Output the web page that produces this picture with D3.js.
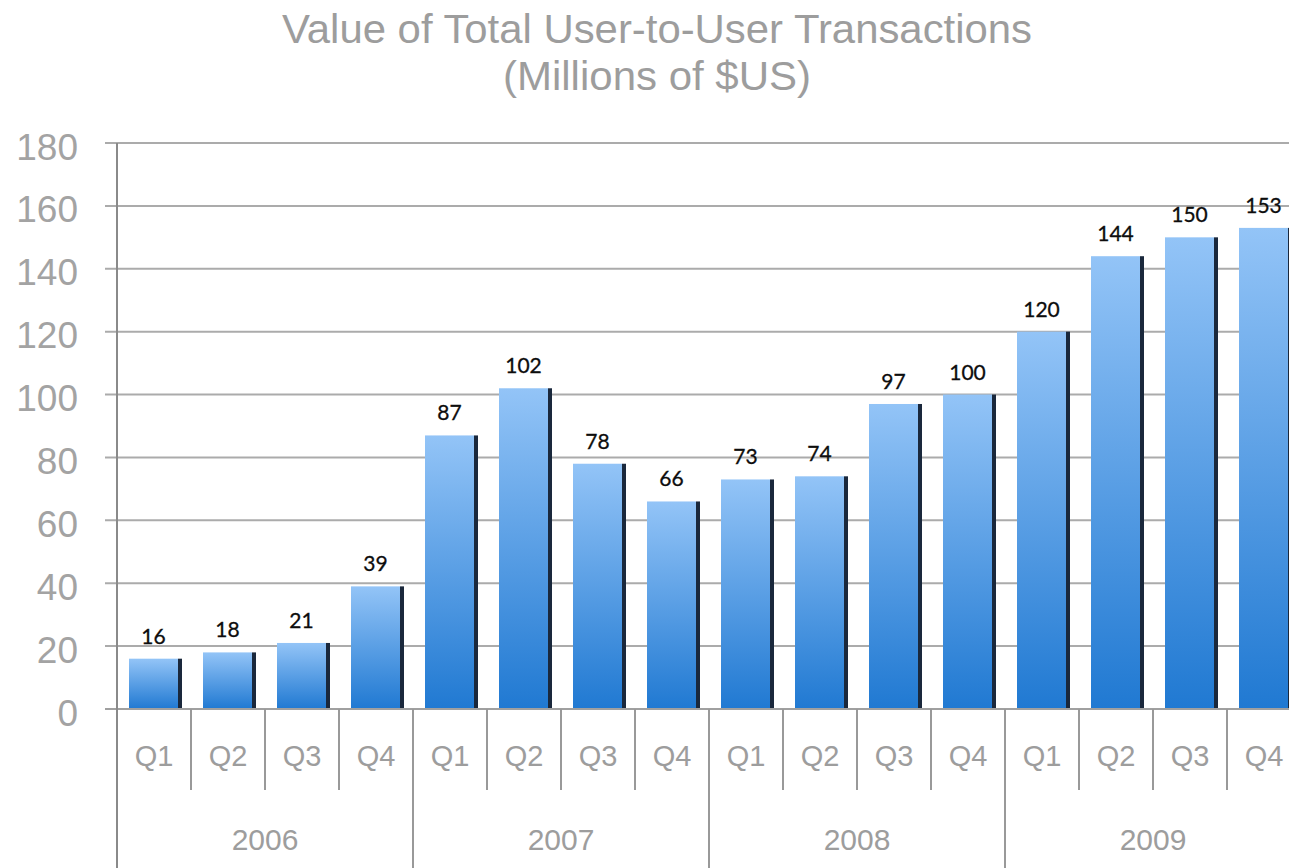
<!DOCTYPE html>
<html>
<head>
<meta charset="utf-8">
<script src="https://cdn.jsdelivr.net/npm/d3@7"></script>
<style>
  html, body { margin: 0; padding: 0; background: #fff; }
  svg { display: block; }
</style>
</head>
<body>
<svg id="chart" width="1289" height="868"></svg>
<script>
// ---- data ----
const years = ["2006", "2007", "2008", "2009"];
const quarters = ["Q1", "Q2", "Q3", "Q4"];
const values = [16, 18, 21, 39, 87, 102, 78, 66, 73, 74, 97, 100, 120, 144, 150, 153];
const yTicks = [0, 20, 40, 60, 80, 100, 120, 140, 160, 180];
const titleLines = ["Value of Total User-to-User Transactions", "(Millions of $US)"];

// ---- build rows ----
const rows = [];
years.forEach((yr, yi) => quarters.forEach((q, qi) => {
  rows.push({ key: yr + "-" + q, year: yr, quarter: q, value: values[yi * quarters.length + qi] });
}));

const W = 1289, H = 868;
const left = 117, bandW = 74;
const svg = d3.select("#chart");

const x = d3.scaleBand().domain(rows.map(d => d.key)).range([left, left + bandW * rows.length]).padding(0);
const y = d3.scaleLinear().domain([0, 180]).range([709, 143]);

const gray = "#9d9d9d";

// gradient
const defs = svg.append("defs");
const grad = defs.append("linearGradient").attr("id", "barGrad").attr("x1", 0).attr("y1", 0).attr("x2", 0).attr("y2", 1);
grad.append("stop").attr("offset", "0%").attr("stop-color", "#93c4f7");
grad.append("stop").attr("offset", "100%").attr("stop-color", "#2079d2");

// title
svg.append("g").selectAll("text").data(titleLines).join("text")
  .attr("x", 657).attr("y", (d, i) => i === 0 ? 43 : 90)
  .attr("text-anchor", "middle")
  .attr("font-family", "'Liberation Sans', Arial, sans-serif")
  .attr("font-size", 41)
  .attr("fill", gray)
  .attr("textLength", (d, i) => i === 0 ? 750 : 308)
  .attr("lengthAdjust", "spacingAndGlyphs")
  .text(d => d);

// gridlines
svg.append("g").selectAll("line").data(yTicks).join("line")
  .attr("x1", 105).attr("x2", W)
  .attr("y1", d => y(d)).attr("y2", d => y(d))
  .attr("stroke", "#ababab").attr("stroke-width", 2);

// y labels
svg.append("g").selectAll("text").data(yTicks).join("text")
  .attr("x", 78).attr("y", d => y(d) + 16.5)
  .attr("text-anchor", "end")
  .attr("font-family", "'Liberation Sans', Arial, sans-serif")
  .attr("font-size", 37)
  .attr("fill", "#a3a3a3")
  .text(d => d);

// bars
const bw = x.bandwidth();
const barOff = 12, barW = 49, shadowW = 4;
const bars = svg.append("g").selectAll("g").data(rows).join("g");
bars.append("rect")
  .attr("x", d => x(d.key) + barOff)
  .attr("y", d => y(d.value))
  .attr("width", barW)
  .attr("height", d => y(0) - y(d.value))
  .attr("fill", "url(#barGrad)");
bars.append("rect")
  .attr("x", d => x(d.key) + barOff + barW)
  .attr("y", d => y(d.value))
  .attr("width", shadowW)
  .attr("height", d => y(0) - y(d.value))
  .attr("fill", "#1a283c");

// value labels
svg.append("g").selectAll("text").data(rows).join("text")
  .attr("x", d => x(d.key) + barOff + barW / 2)
  .attr("y", d => y(d.value) - 15)
  .attr("text-anchor", "middle")
  .attr("font-family", "Lato, 'Open Sans', sans-serif")
  .attr("font-size", 21)
  .attr("fill", "#0d0d0d")
  .attr("stroke", "#0d0d0d")
  .attr("stroke-width", 0.3)
  .text(d => d.value);

// baseline (0) redraw over bars' bottom
svg.append("line").attr("x1", 105).attr("x2", W).attr("y1", y(0)).attr("y2", y(0))
  .attr("stroke", "#a0a0a0").attr("stroke-width", 2);

// y axis line
svg.append("line").attr("x1", left).attr("x2", left).attr("y1", y(180)).attr("y2", H)
  .attr("stroke", "#8a8a8a").attr("stroke-width", 2);

// quarter separators (within years)
svg.append("g").selectAll("line").data(rows.filter(d => d.quarter !== quarters[0])).join("line")
  .attr("x1", d => x(d.key)).attr("x2", d => x(d.key))
  .attr("y1", y(0)).attr("y2", 790)
  .attr("stroke", "#999").attr("stroke-width", 2);

// year separators
svg.append("g").selectAll("line").data(rows.filter(d => d.quarter === quarters[0] && d.year !== years[0])).join("line")
  .attr("x1", d => x(d.key)).attr("x2", d => x(d.key))
  .attr("y1", y(0)).attr("y2", H)
  .attr("stroke", "#999").attr("stroke-width", 2);

// quarter labels
svg.append("g").selectAll("text").data(rows).join("text")
  .attr("x", d => x(d.key) + bw / 2)
  .attr("y", 766)
  .attr("text-anchor", "middle")
  .attr("font-family", "'Liberation Sans', Arial, sans-serif")
  .attr("font-size", 29)
  .attr("fill", gray)
  .text(d => d.quarter);

// year labels
svg.append("g").selectAll("text").data(years).join("text")
  .attr("x", yr => x(yr + "-" + quarters[0]) + bw * quarters.length / 2)
  .attr("y", 850)
  .attr("text-anchor", "middle")
  .attr("font-family", "'Liberation Sans', Arial, sans-serif")
  .attr("font-size", 30)
  .attr("fill", gray)
  .text(d => d);
</script>
</body>
</html>
